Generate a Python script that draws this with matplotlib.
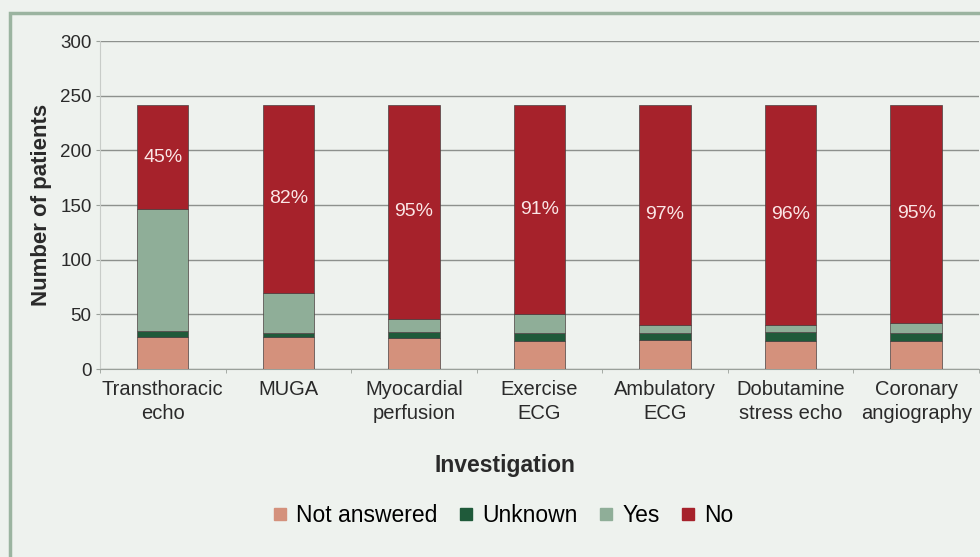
"""Stacked bars: patient responses per cardiac investigation."""
import matplotlib
matplotlib.use("Agg")
import matplotlib.pyplot as plt
from matplotlib.patches import Rectangle
from matplotlib.lines import Line2D
import numpy as np

matplotlib.rcParams.update({
    "font.family": ["Liberation Sans", "DejaVu Sans"],
    "font.size": 12,
})

investigations = ["Transthoracic\necho", "MUGA", "Myocardial\nperfusion",
                  "Exercise\nECG", "Ambulatory\nECG", "Dobutamine\nstress echo",
                  "Coronary\nangiography"]
not_answered = [29, 29, 28, 26, 27, 26, 26]
unknown = [6, 4, 6, 7, 6, 8, 7]
yes = [111, 37, 12, 17, 7, 6, 9]
no = [96, 172, 196, 192, 202, 202, 200]
pct_no = ["45%", "82%", "95%", "91%", "97%", "96%", "95%"]

series = [("Not answered", not_answered, "#d4917c"),
          ("Unknown", unknown, "#1f5a3a"),
          ("Yes", yes, "#8fae98"),
          ("No", no, "#a6222b")]

bg = "#eef2ee"
txt = "#2a2a2a"
fig = plt.figure(figsize=(9.8, 5.57), dpi=100, facecolor=bg)
ax = fig.add_axes([0.102, 0.3375, 0.897, 0.5885])
ax.set_facecolor(bg)

x = np.arange(len(investigations))
bottom = np.zeros(len(x))
for name, vals, col in series:
    ax.bar(x, vals, 0.41, bottom=bottom, color=col, edgecolor="#4a4040",
           linewidth=0.5, zorder=3, label=name)
    bottom += np.array(vals)

# percentage labels centred in the "No" segment
base = np.array(not_answered) + np.array(unknown) + np.array(yes)
for xi, b, n, p in zip(x, base, no, pct_no):
    ax.text(xi, b + n / 2, p, ha="center", va="center", color="#fbe6e6",
            fontsize=14, zorder=4)

ax.set_xlim(-0.5, 6.5)
ax.set_ylim(0, 300)
ax.set_yticks(range(0, 301, 50))
ax.yaxis.grid(True, color="#8d918d", linewidth=1.0, zorder=0)
ax.set_xticks(x)
ax.set_xticklabels(investigations, fontsize=14.5, color=txt,
                   linespacing=1.3)
ax.set_xticks(np.arange(-0.5, 7, 1), minor=True)
ax.tick_params(axis="x", which="major", length=0, pad=8)
ax.tick_params(axis="x", which="minor", length=3, color="#9aa09a")
ax.tick_params(axis="y", length=3, color="#9aa09a", labelsize=13.5,
               labelcolor=txt, pad=3)
for s in ["top", "right"]:
    ax.spines[s].set_visible(False)
ax.spines["left"].set_color("#c8ccc8")
ax.spines["bottom"].set_color("#9aa09a")

ax.set_ylabel("Number of patients", fontsize=16, fontweight="bold",
              color=txt, labelpad=6)
fig.text(0.515, 0.165, "Investigation", ha="center", va="center",
         fontsize=16.5, fontweight="bold", color=txt)

handles = [Line2D([], [], marker="s", linestyle="", markersize=8,
                  color=c, label=n) for n, _, c in series]
fig.legend(handles=handles, loc="center", bbox_to_anchor=(0.513, 0.074),
           ncol=4, frameon=False, fontsize=16.5, handlelength=0.7,
           handletextpad=0.35, columnspacing=0.9)

# figure border, top and left edges
fig.add_artist(Rectangle((10 / 980, -0.1), 1.2, 1.1 - 13 / 557,
                         transform=fig.transFigure, fill=False,
                         edgecolor="#9bb4a0", linewidth=2.5))

fig.savefig("out.png", dpi=100, facecolor=bg)
